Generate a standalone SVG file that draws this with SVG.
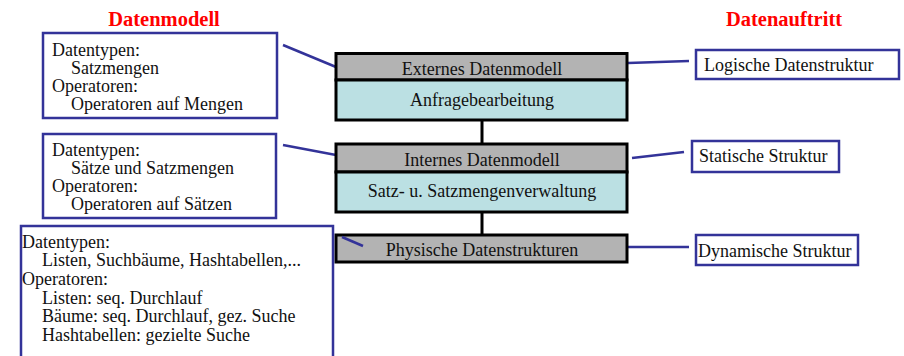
<svg xmlns="http://www.w3.org/2000/svg" width="904" height="356" viewBox="0 0 904 356" font-family="Liberation Serif, Times New Roman, serif">
  <style>
    text { font-family: "Liberation Serif", "Times New Roman", serif; font-size: 18px; fill: #111; }
    .title { font-weight: bold; font-size: 20.5px; fill: #ff0000; text-anchor: middle; }
    .mid { text-anchor: middle; }
    .note { fill: #fff; stroke: #333399; stroke-width: 2.5; }
    .layer { stroke: #000; stroke-width: 3; }
    .gray { fill: #b3b3b3; }
    .cyan { fill: #bbe0e3; }
    .link { stroke: #333399; stroke-width: 2.5; fill: none; }
    .stem { stroke: #000; stroke-width: 3; fill: none; }
  </style>

  <rect width="904" height="356" fill="#fff"/>

  <text class="title" x="164" y="26">Datenmodell</text>
  <text class="title" x="784" y="26">Datenauftritt</text>

  <!-- stems between the layers and links from descriptions to layers -->
  <g id="connectors">
    <line class="stem" x1="482" y1="120" x2="482" y2="144"/>
    <line class="stem" x1="482" y1="212" x2="482" y2="235"/>
    <line class="link" x1="283" y1="45" x2="336" y2="67"/>
    <line class="link" x1="283" y1="145" x2="336" y2="155"/>
    <line class="link" x1="628" y1="63" x2="689" y2="61"/>
    <line class="link" x1="632" y1="158" x2="684" y2="152"/>
    <line class="link" x1="628" y1="247" x2="689" y2="247"/>
  </g>

  <!-- layer stacks -->
  <g id="extern">
    <rect class="layer gray" x="336" y="53.5" width="291" height="26.5"/>
    <rect class="layer cyan" x="336" y="80" width="291" height="40"/>
    <text class="mid" x="482" y="75">Externes Datenmodell</text>
    <text class="mid" x="482" y="106">Anfragebearbeitung</text>
  </g>

  <g id="intern">
    <rect class="layer gray" x="336" y="144" width="291" height="28"/>
    <rect class="layer cyan" x="336" y="172" width="291" height="40"/>
    <text class="mid" x="482" y="166">Internes Datenmodell</text>
    <text class="mid" x="482" y="197">Satz- u. Satzmengenverwaltung</text>
  </g>

  <g id="physisch">
    <rect class="layer gray" x="336" y="235" width="291" height="27"/>
    <text class="mid" x="482" y="256">Physische Datenstrukturen</text>
  </g>

  <!-- model descriptions (left) -->
  <g id="modell-extern">
    <rect class="note" x="43" y="33" width="234" height="85"/>
    <text x="52" y="56">Datentypen:</text>
    <text x="71" y="74">Satzmengen</text>
    <text x="52" y="92">Operatoren:</text>
    <text x="71" y="110">Operatoren auf Mengen</text>
  </g>

  <g id="modell-intern">
    <rect class="note" x="43" y="134" width="233" height="84"/>
    <text x="52" y="156">Datentypen:</text>
    <text x="71" y="174">Sätze und Satzmengen</text>
    <text x="52" y="192">Operatoren:</text>
    <text x="71" y="210">Operatoren auf Sätzen</text>
  </g>

  <g id="modell-physisch">
    <rect class="note" x="21" y="226" width="312" height="140"/>
    <text x="22" y="248">Datentypen:</text>
    <text x="42" y="266">Listen, Suchbäume, Hashtabellen,...</text>
    <text x="22" y="285">Operatoren:</text>
    <text x="42" y="304">Listen: seq. Durchlauf</text>
    <text x="42" y="322">Bäume: seq. Durchlauf, gez. Suche</text>
    <text x="42" y="341">Hashtabellen: gezielte Suche</text>
  </g>

  <!-- short tick drawn over the physical layer -->
  <line class="link" x1="342" y1="237" x2="363" y2="246"/>

  <!-- appearance (right) -->
  <g id="logisch">
    <rect class="note" x="696" y="50" width="203" height="29"/>
    <text x="704" y="71">Logische Datenstruktur</text>
  </g>

  <g id="statisch">
    <rect class="note" x="692" y="141" width="147" height="31"/>
    <text x="699" y="162">Statische Struktur</text>
  </g>

  <g id="dynamisch">
    <rect class="note" x="696" y="235" width="162" height="30"/>
    <text x="698" y="257">Dynamische Struktur</text>
  </g>
</svg>
